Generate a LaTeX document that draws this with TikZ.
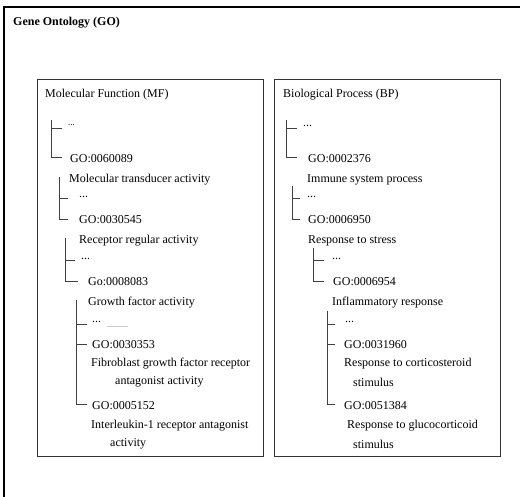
\documentclass[tikz,border=0pt]{standalone}
\usepackage{fontspec}
\setmainfont{Liberation Serif}
\begin{document}
\begin{tikzpicture}[x=1pt,y=-1pt,
  txt/.style={anchor=west,inner sep=0pt,font=\fontsize{12}{14}\selectfont,text=black},
  ttl/.style={anchor=west,inner sep=0pt,font=\fontsize{12}{14}\selectfont\bfseries,text=black},
  panel/.style={draw=black!80,line width=0.9pt},
  outer/.style={draw=black,line width=1.3pt},
  tree/.style={draw=black!75,line width=0.8pt}]
\useasboundingbox (0,0) rectangle (520,497);
% outer frame (top and left only)
\coordinate (oTL) at (4,7);
\coordinate (oTR) at (521,7);
\coordinate (oBL) at (4,498);
\draw[outer] (oTR) -- (oTL) -- (oBL);
\node[ttl] (title) at (13,23) {Gene Ontology (GO)};
% panels
\draw[panel] (37,79) rectangle (263,456);
\draw[panel] (274,79) rectangle (500,456);
\node[txt] (mf) at (45,95) {Molecular Function (MF)};
\node[txt] (bp) at (283,95) {Biological Process (BP)};
% ---------- MF texts
\node[txt] (ma0) at (68,125) {\fontsize{9}{10}\selectfont ...};
\node[txt] (ma1) at (70,159) {GO:0060089};
\node[txt] (ma2) at (69,180) {Molecular transducer activity};
\node[txt] (mb0) at (79,197) {...};
\node[txt] (mb1) at (79,220) {GO:0030545};
\node[txt] (mb2) at (79,241) {Receptor regular activity};
\node[txt] (mc0) at (81,259) {...};
\node[txt] (mc1) at (88,282) {Go:0008083};
\node[txt] (mc2) at (88,303) {Growth factor activity};
\node[txt] (md0) at (92,322) {...};
\node[txt] (md1) at (92,345) {GO:0030353};
\node[txt] (md2) at (91,364) {Fibroblast growth factor receptor};
\node[txt] (md3) at (115,382) {antagonist activity};
\node[txt] (me1) at (92,406) {GO:0005152};
\node[txt] (me2) at (91,426) {Interleukin-1 receptor antagonist};
\node[txt] (me3) at (110,444) {activity};
\coordinate (faintA) at (107,326);
\coordinate (faintB) at (128,326);
\draw[black!20,line width=0.6pt] (faintA) -- (faintB);
% MF tree lines
\coordinate (mL1) at (51.5,120);
\coordinate (mL1a) at (61.5,128);
\coordinate (mL1b) at (61.5,157);
\draw[tree] (mL1) |- (mL1a); \draw[tree] (mL1) |- (mL1b);
\coordinate (mL2) at (59,177);
\coordinate (mL2a) at (68,198);
\coordinate (mL2b) at (68,219);
\draw[tree] (mL2) |- (mL2a); \draw[tree] (mL2) |- (mL2b);
\coordinate (mL3) at (65,238);
\coordinate (mL3a) at (75,260);
\coordinate (mL3b) at (78,281);
\draw[tree] (mL3) |- (mL3a); \draw[tree] (mL3) |- (mL3b);
\coordinate (mL4) at (76.5,300);
\coordinate (mL4a) at (86.5,324);
\coordinate (mL4b) at (86.5,344);
\coordinate (mL4c) at (86.5,404);
\draw[tree] (mL4) |- (mL4a); \draw[tree] (mL4) |- (mL4b); \draw[tree] (mL4) |- (mL4c);
% ---------- BP texts
\node[txt] (ba0) at (303,126) {...};
\node[txt] (ba1) at (308,159) {GO:0002376};
\node[txt] (ba2) at (307,180) {Immune system process};
\node[txt] (bb0) at (307,197) {...};
\node[txt] (bb1) at (308,220) {GO:0006950};
\node[txt] (bb2) at (308,241) {Response to stress};
\node[txt] (bc0) at (332,259) {...};
\node[txt] (bc1) at (333,282) {GO:0006954};
\node[txt] (bc2) at (332,303) {Inflammatory response};
\node[txt] (bd0) at (345,322) {...};
\node[txt] (bd1) at (344,345) {GO:0031960};
\node[txt] (bd2) at (344,364) {Response to corticosteroid};
\node[txt] (bd3) at (353,382) {stimulus};
\node[txt] (be1) at (344,406) {GO:0051384};
\node[txt] (be2) at (347,426) {Response to glucocorticoid};
\node[txt] (be3) at (353,444) {stimulus};
% BP tree lines
\coordinate (bL1) at (286,120);
\coordinate (bL1a) at (297,128);
\coordinate (bL1b) at (297,157);
\draw[tree] (bL1) |- (bL1a); \draw[tree] (bL1) |- (bL1b);
\coordinate (bL2) at (292,186);
\coordinate (bL2a) at (300,198);
\coordinate (bL2b) at (300,219);
\draw[tree] (bL2) |- (bL2a); \draw[tree] (bL2) |- (bL2b);
\coordinate (bL3) at (313,248);
\coordinate (bL3a) at (324,260);
\coordinate (bL3b) at (324,281);
\draw[tree] (bL3) |- (bL3a); \draw[tree] (bL3) |- (bL3b);
\coordinate (bL4) at (327,311);
\coordinate (bL4a) at (335,324);
\coordinate (bL4b) at (335,344);
\coordinate (bL4c) at (335,404);
\draw[tree] (bL4) |- (bL4a); \draw[tree] (bL4) |- (bL4b); \draw[tree] (bL4) |- (bL4c);
\end{tikzpicture}
\end{document}
